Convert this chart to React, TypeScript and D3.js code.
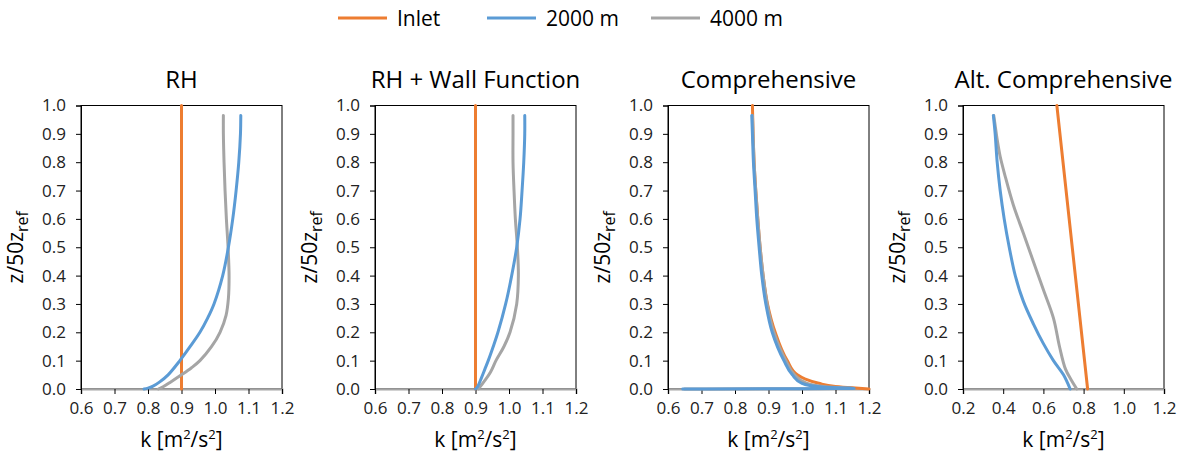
import React, { useEffect, useRef } from "react";
import * as d3 from "d3";

// [k, z/50zref]
const rhInlet = [[0.9, 0.0], [0.9, 1.0]];
const rh2000 = [
  [0.788, 0.0], [0.8, 0.003], [0.815, 0.01], [0.835, 0.025], [0.86, 0.05],
  [0.895, 0.1], [0.926, 0.15], [0.955, 0.2], [0.978, 0.25], [0.997, 0.3],
  [1.023, 0.4], [1.04, 0.5], [1.053, 0.6], [1.063, 0.7], [1.071, 0.8],
  [1.076, 0.9], [1.077, 0.965],
];
const rh4000 = [
  [0.831, 0.0], [0.845, 0.008], [0.868, 0.025], [0.9, 0.05], [0.93, 0.075],
  [0.955, 0.1], [0.99, 0.15], [1.015, 0.2], [1.033, 0.26], [1.04, 0.32],
  [1.042, 0.4], [1.039, 0.5], [1.034, 0.6], [1.03, 0.7], [1.027, 0.8],
  [1.025, 0.9], [1.025, 0.965],
];

const wfInlet = [[0.9, 0.0], [0.9, 1.0]];
const wf2000 = [
  [0.9, 0.0], [0.907, 0.01], [0.918, 0.04], [0.928, 0.07], [0.938, 0.1],
  [0.953, 0.15], [0.967, 0.2], [0.99, 0.3], [1.008, 0.4], [1.023, 0.5],
  [1.033, 0.6], [1.039, 0.7], [1.044, 0.8], [1.047, 0.9], [1.047, 0.965],
];
const wf4000 = [
  [0.909, 0.0], [0.915, 0.01], [0.928, 0.03], [0.945, 0.06], [0.961, 0.1],
  [0.985, 0.15], [1.003, 0.2], [1.023, 0.3], [1.028, 0.4], [1.025, 0.5],
  [1.019, 0.6], [1.015, 0.7], [1.012, 0.8], [1.012, 0.9], [1.012, 0.965],
];

const cpInlet = [
  [1.2, 0.0], [1.15, 0.004], [1.1, 0.009], [1.05, 0.02], [1.01, 0.035],
  [0.986, 0.05], [0.956, 0.1], [0.92, 0.2], [0.897, 0.3], [0.884, 0.4],
  [0.875, 0.5], [0.868, 0.6], [0.862, 0.7], [0.857, 0.8], [0.854, 0.9],
  [0.852, 1.0],
];
const cp2000 = [
  [0.644, 0.0], [1.156, 0.002], [1.06, 0.007], [1.0, 0.02], [0.971, 0.05],
  [0.946, 0.1], [0.911, 0.2], [0.892, 0.3], [0.88, 0.4], [0.872, 0.5],
  [0.865, 0.6], [0.86, 0.7], [0.855, 0.8], [0.852, 0.9], [0.85, 0.965],
];
const cp4000 = [
  [0.65, 0.0], [1.15, 0.002], [1.07, 0.008], [1.01, 0.022], [0.978, 0.05],
  [0.952, 0.1], [0.916, 0.2], [0.896, 0.3], [0.884, 0.4], [0.875, 0.5],
  [0.868, 0.6], [0.862, 0.7], [0.857, 0.8], [0.854, 0.9], [0.852, 0.965],
];

const acInlet = [[0.82, 0.0], [0.667, 1.0]];
const ac2000 = [
  [0.733, 0.0], [0.7, 0.05], [0.65, 0.1], [0.6, 0.16], [0.55, 0.23],
  [0.5, 0.31], [0.46, 0.4], [0.43, 0.5], [0.405, 0.6], [0.385, 0.7],
  [0.37, 0.8], [0.36, 0.9], [0.351, 0.965],
];
const ac4000 = [
  [0.766, 0.0], [0.74, 0.03], [0.71, 0.07], [0.68, 0.15], [0.65, 0.25],
  [0.6, 0.35], [0.55, 0.45], [0.5, 0.55], [0.45, 0.65], [0.41, 0.75],
  [0.385, 0.82], [0.37, 0.88], [0.36, 0.93], [0.353, 0.965],
];

const titles = ["RH", "RH + Wall Function", "Comprehensive", "Alt. Comprehensive"];
const xTicksA = [0.6, 0.7, 0.8, 0.9, 1.0, 1.1, 1.2];
const xTicksB = [0.2, 0.4, 0.6, 0.8, 1.0, 1.2];
const yTicks = [0, 0.1, 0.2, 0.3, 0.4, 0.5, 0.6, 0.7, 0.8, 0.9, 1.0];
const seriesNames = ["Inlet", "2000 m", "4000 m"];
const colors = ["#ED7D31", "#5B9BD5", "#A5A5A5"];

const panels = [
  { title: titles[0], ticks: xTicksA, inlet: rhInlet, s2000: rh2000, s4000: rh4000, curve: d3.curveCatmullRom },
  { title: titles[1], ticks: xTicksA, inlet: wfInlet, s2000: wf2000, s4000: wf4000, curve: d3.curveCatmullRom },
  { title: titles[2], ticks: xTicksA, inlet: cpInlet, s2000: cp2000, s4000: cp4000, curve: d3.curveMonotoneY },
  { title: titles[3], ticks: xTicksB, inlet: acInlet, s2000: ac2000, s4000: ac4000, curve: d3.curveCatmullRom },
];

const FONT = "'Open Sans', 'Noto Sans', sans-serif";

export default function App() {
  const ref = useRef<SVGSVGElement>(null);

  useEffect(() => {
    document.body.style.margin = "0";
    const width = 1192;
    const height = 459;
    const svg = d3.select(ref.current).attr("width", width).attr("height", height);
    svg.selectAll("*").remove();
    svg.append("rect").attr("width", width).attr("height", height).attr("fill", "#fff");

    const plotW = 201;
    const top = 105.5;
    const bottom = 389;
    const lefts = [81, 375, 668, 963];

    const y = d3.scaleLinear().domain([0, 1]).range([bottom, top]);

    panels.forEach((p, i) => {
      const left = lefts[i];
      const x = d3
        .scaleLinear()
        .domain(d3.extent(p.ticks) as [number, number])
        .range([left, left + plotW]);
      const g = svg.append("g");

      // frame
      g.append("rect")
        .attr("x", left)
        .attr("y", top)
        .attr("width", plotW)
        .attr("height", bottom - top)
        .attr("fill", "none")
        .attr("stroke", "#000")
        .attr("stroke-width", 1);

      // axes
      const xAxis = g
        .append("g")
        .attr("transform", `translate(0,${bottom})`)
        .call(d3.axisBottom(x).tickValues(p.ticks).tickSize(5).tickPadding(8).tickFormat(d3.format(".1f")));
      const yAxis = g
        .append("g")
        .attr("transform", `translate(${left},0)`)
        .call(d3.axisLeft(y).tickValues(yTicks).tickSize(5).tickPadding(10).tickFormat(d3.format(".1f")));
      [xAxis, yAxis].forEach((a) => {
        a.select(".domain").attr("stroke", "#000");
        a.selectAll("line").attr("stroke", "#000");
        a.selectAll("text")
          .attr("font-family", FONT)
          .attr("font-size", 17)
          .attr("fill", "#222");
      });
      xAxis.select(".domain").attr("stroke", "#A5A5A5").attr("stroke-width", 2);

      // series
      const line = d3
        .line<number[]>()
        .x((d) => x(d[0]))
        .y((d) => y(d[1]))
        .curve(p.curve);
      [
        { d: p.inlet, c: colors[0] },
        { d: p.s4000, c: colors[2] },
        { d: p.s2000, c: colors[1] },
      ].forEach((s) => {
        g.append("path")
          .attr("d", line(s.d))
          .attr("fill", "none")
          .attr("stroke", s.c)
          .attr("stroke-width", 3)
          .attr("stroke-linecap", "round")
          .attr("stroke-linejoin", "round");
      });

      // title
      g.append("text")
        .attr("x", left + plotW / 2)
        .attr("y", 88)
        .attr("text-anchor", "middle")
        .attr("font-family", FONT)
        .attr("font-size", 24)
        .attr("fill", "#000")
        .text(p.title);

      // x label
      const xl = g
        .append("text")
        .attr("x", left + plotW / 2)
        .attr("y", 447)
        .attr("text-anchor", "middle")
        .attr("font-family", FONT)
        .attr("font-size", 21)
        .attr("fill", "#000");
      xl.append("tspan").text("k [m");
      xl.append("tspan").attr("dy", -8).attr("font-size", 13).text("2");
      xl.append("tspan").attr("dy", 8).text("/s");
      xl.append("tspan").attr("dy", -8).attr("font-size", 13).text("2");
      xl.append("tspan").attr("dy", 8).text("]");

      // y label
      const yl = g
        .append("text")
        .attr("transform", `translate(${left - 58},${(top + bottom) / 2}) rotate(-90)`)
        .attr("text-anchor", "middle")
        .attr("font-family", FONT)
        .attr("font-size", 21)
        .attr("fill", "#000");
      yl.append("tspan").text("z/50z");
      yl.append("tspan").attr("dy", 5).attr("font-size", 16).text("ref");
    });

    // legend
    const legendX = [338, 487, 651];
    seriesNames.forEach((n, i) => {
      const lx = legendX[i];
      svg.append("line")
        .attr("x1", lx)
        .attr("x2", lx + 49)
        .attr("y1", 18)
        .attr("y2", 18)
        .attr("stroke", colors[i])
        .attr("stroke-width", 3);
      svg.append("text")
        .attr("x", lx + 59)
        .attr("y", 26)
        .attr("font-family", FONT)
        .attr("font-size", 21)
        .attr("fill", "#000")
        .text(n);
    });
  }, []);

  return <svg ref={ref} style={{ display: "block" }} />;
}
